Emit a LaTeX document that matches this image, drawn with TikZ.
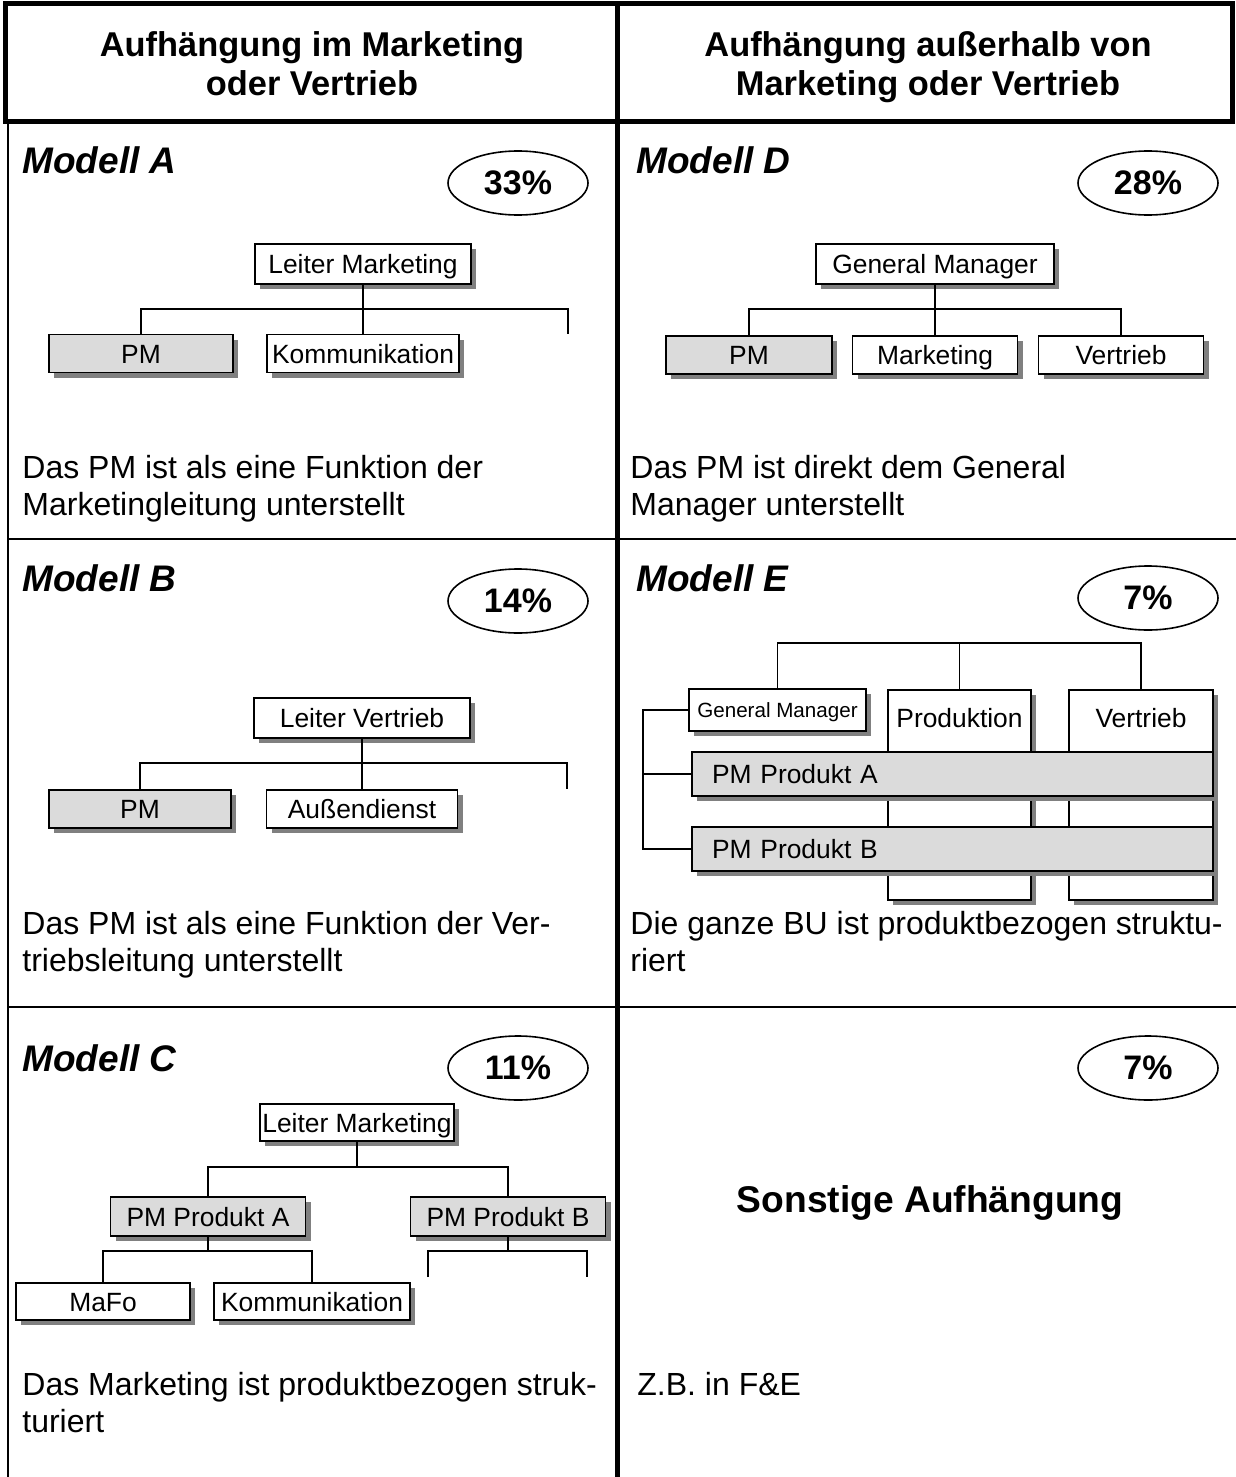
\documentclass[tikz,border=0pt]{standalone}
\usepackage{fontspec}
\setmainfont{Liberation Sans}
\usetikzlibrary{shadows,shapes.geometric,calc}
\newcommand\fsbox{\fontsize{13.2}{15}\selectfont}
\newcommand\fssmallbox{\fontsize{10.3}{12}\selectfont}
\newcommand\fsbody{\fontsize{16}{18.5}\selectfont}
\newcommand\fshdr{\fontsize{17.2}{19.5}\selectfont\bfseries}
\newcommand\fsson{\fontsize{18.6}{21}\selectfont\bfseries}
\newcommand\fsmod{\fontsize{18.5}{21}\selectfont\bfseries\itshape}
\newcommand\fspct{\fontsize{17}{19}\selectfont\bfseries}
\tikzset{
  obox/.style={draw, line width=0.9pt, fill=white, inner sep=0pt, font=\fsbox,
    text height=9.5pt, text depth=0pt,
    drop shadow={shadow xshift=2.6pt, shadow yshift=-2.6pt, fill=black!50, opacity=1}},
  gbox/.style={obox, fill=black!14},
  pct/.style={draw, ellipse, line width=0.8pt, minimum width=70pt, minimum height=32pt, inner sep=0pt, font=\fspct},
  modell/.style={anchor=base west, font=\fsmod, inner sep=0pt},
  body/.style={anchor=base west, font=\fsbody, inner sep=0pt},
  hdr/.style={anchor=base, font=\fshdr, inner sep=0pt},
  conn/.style={line width=0.9pt},
  plain/.style={inner sep=0pt, font=\fsbox, text height=9.5pt, text depth=0pt},
}
\begin{document}
\begin{tikzpicture}[x=0.5pt,y=-0.5pt]
\fill[white] (0,0) rectangle (1236,1477);
\useasboundingbox (0,0) rectangle (1236,1477);

% ---------- frame ----------
\draw[line width=2.5pt] (5,4) rectangle (1232,122);
\draw[line width=2.5pt] (617,4) -- (617,1477);
\draw[line width=1pt] (8,122) -- (8,1477);
\draw[line width=1pt] (8,539) -- (1236,539);
\draw[line width=1pt] (8,1007) -- (1236,1007);

% ---------- header ----------
\node[hdr] (h1a) at (312,57) {Aufhängung im Marketing};
\node[hdr] (h1b) at (312,96) {oder Vertrieb};
\node[hdr] (h2a) at (928,57) {Aufhängung außerhalb von};
\node[hdr] (h2b) at (928,96) {Marketing oder Vertrieb};

% ---------- Modell A ----------
\node[modell] (mA) at (22,173) {Modell A};
\node[pct] (pA) at (518,183) {33\%};
\node[obox, minimum width=108pt, minimum height=20pt] (lmA) at (363,264) {Leiter Marketing};
\node[gbox, minimum width=92pt, minimum height=19pt] (pmA) at (141,353.5) {PM};
\node[obox, minimum width=96pt, minimum height=19pt] (koA) at (363,353.5) {Kommunikation};
\coordinate (busA) at (363,309);
\coordinate (stubA) at (568,334);
\draw[conn] (lmA.south) -- (koA.north);
\draw[conn] (pmA.north) |- (busA) -| (stubA);
\node[body] (tA1) at (22,478) {Das PM ist als eine Funktion der};
\node[body] (tA2) at (22,515) {Marketingleitung unterstellt};

% ---------- Modell D ----------
\node[modell] (mD) at (636,173) {Modell D};
\node[pct] (pD) at (1148,183) {28\%};
\node[obox, minimum width=119pt, minimum height=20pt] (gmD) at (935,264) {General Manager};
\node[gbox, minimum width=83pt, minimum height=19pt] (pmD) at (749,355) {PM};
\node[obox, minimum width=82.5pt, minimum height=19pt] (mkD) at (935,355) {Marketing};
\node[obox, minimum width=82.5pt, minimum height=19pt] (vtD) at (1121,355) {Vertrieb};
\coordinate (busD) at (935,309);
\draw[conn] (gmD.south) -- (mkD.north);
\draw[conn] (pmD.north) |- (busD) -| (vtD.north);
\node[body] (tD1) at (630,478) {Das PM ist direkt dem General};
\node[body] (tD2) at (630,515) {Manager unterstellt};

% ---------- Modell B ----------
\node[modell] (mB) at (22,591) {Modell B};
\node[pct] (pB) at (518,601) {14\%};
\node[obox, minimum width=108pt, minimum height=20pt] (lvB) at (362,718) {Leiter Vertrieb};
\node[gbox, minimum width=91pt, minimum height=19pt] (pmB) at (140,809) {PM};
\node[obox, minimum width=95.5pt, minimum height=19pt] (adB) at (362,809) {Außendienst};
\coordinate (busB) at (362,763);
\coordinate (stubB) at (567,789);
\draw[conn] (lvB.south) -- (adB.north);
\draw[conn] (pmB.north) |- (busB) -| (stubB);
\node[body] (tB1) at (22,934) {Das PM ist als eine Funktion der Ver-};
\node[body] (tB2) at (22,971) {triebsleitung unterstellt};

% ---------- Modell E ----------
\node[modell] (mE) at (636,591) {Modell E};
\node[pct] (pE) at (1148,598) {7\%};
\node[obox, minimum width=71.5pt, minimum height=105pt] (pcolE) at (959.5,795) {};
\node[obox, minimum width=72pt, minimum height=105pt] (vcolE) at (1141,795) {};
\node[plain] (prodE) at (959.5,718) {Produktion};
\node[plain] (vertE) at (1141,718) {Vertrieb};
\node[obox, font=\fssmallbox, text height=7.4pt, minimum width=88.5pt, minimum height=21pt] (gmE) at (777.5,710) {General Manager};
\node[gbox, minimum width=260.5pt, minimum height=22pt, text width=240.5pt, inner xsep=10pt, align=left] (paE) at (952.5,774) {PM Produkt A};
\node[gbox, minimum width=260.5pt, minimum height=22pt, text width=240.5pt, inner xsep=10pt, align=left] (pbE) at (952.5,849) {PM Produkt B};
\coordinate (topE) at (959.5,643);
\coordinate (brkE) at (643,710);
\draw[conn] (gmE.north) |- (topE) -| (vcolE.north);
\draw[conn] (topE) -- (pcolE.north);
\draw[conn] (gmE.west) -- (brkE) |- (pbE.west);
\draw[conn] (paE.west) -- (paE.west -| brkE);
\node[body] (tE1) at (630,934) {Die ganze BU ist produktbezogen struktu-};
\node[body] (tE2) at (630,971) {riert};

% ---------- Modell C ----------
\node[modell] (mC) at (22,1071) {Modell C};
\node[pct] (pC) at (518,1068) {11\%};
\node[obox, minimum width=97pt, minimum height=18.5pt] (lmC) at (357,1122.5) {Leiter Marketing};
\node[gbox, minimum width=97.5pt, minimum height=19.5pt] (paC) at (208,1216.5) {PM Produkt A};
\node[gbox, minimum width=97.5pt, minimum height=19.5pt] (pbC) at (508,1216.5) {PM Produkt B};
\node[obox, minimum width=87pt, minimum height=18.5pt] (maC) at (103,1301.5) {MaFo};
\node[obox, minimum width=98pt, minimum height=18.5pt] (koC) at (312,1301.5) {Kommunikation};
\coordinate (busC) at (357,1167);
\coordinate (busC2) at (208,1251);
\coordinate (busC3) at (508,1251);
\coordinate (stubCL) at (428,1277);
\coordinate (stubCR) at (587,1277);
\draw[conn] (lmC.south) -- (busC);
\draw[conn] (paC.north) |- (busC) -| (pbC.north);
\draw[conn] (paC.south) -- (busC2);
\draw[conn] (maC.north) |- (busC2) -| (koC.north);
\draw[conn] (pbC.south) -- (busC3);
\draw[conn] (stubCL) |- (busC3) -| (stubCR);
\node[body] (tC1) at (22,1395) {Das Marketing ist produktbezogen struk-};
\node[body] (tC2) at (22,1432) {turiert};

% ---------- Sonstige ----------
\node[pct] (pF) at (1148,1068) {7\%};
\node[anchor=base, font=\fsson, inner sep=0pt] (son) at (930,1212) {Sonstige Aufhängung};
\node[body] (tF1) at (637,1395) {Z.B. in F\&E};
\end{tikzpicture}
\end{document}
